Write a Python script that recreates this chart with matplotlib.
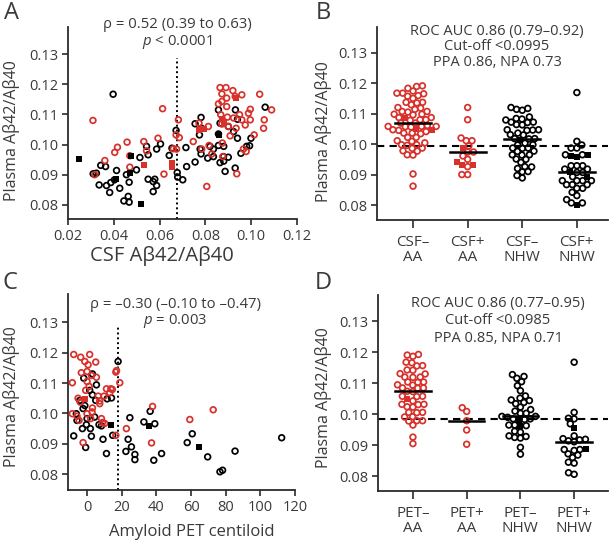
import numpy as np
import matplotlib.pyplot as plt

plt.rcParams['font.family'] = ['Open Sans', 'DejaVu Sans']
plt.rcParams['mathtext.fontset'] = 'custom'
plt.rcParams['mathtext.rm'] = 'Open Sans'
plt.rcParams['mathtext.it'] = 'Open Sans:italic'

RED = '#d8312b'
INK = '#2b2b2b'
TXT = '#3a3a3a'

# ---- panel A: CSF ratio vs plasma ratio ----
a_black_x = [0.0397, 0.0310, 0.0324, 0.0336, 0.0343, 0.0364, 0.0368, 0.0382, 0.0387, 0.0403,
             0.0412, 0.0426, 0.0444, 0.0455, 0.0463, 0.0467, 0.0467, 0.0499, 0.0543, 0.0550,
             0.0550, 0.0572, 0.0572, 0.0579, 0.0587, 0.0587, 0.0604, 0.0642, 0.0654, 0.0672,
             0.0677, 0.0679, 0.0701, 0.0718, 0.0715, 0.0755, 0.0755, 0.0774, 0.0777, 0.0781,
             0.0781, 0.0783, 0.0810, 0.0820, 0.0835, 0.0835, 0.0857, 0.0857, 0.0857, 0.0864,
             0.0879, 0.0864, 0.0880, 0.0886, 0.0880, 0.0900, 0.0900, 0.0923, 0.0931, 0.0940,
             0.0940, 0.0930, 0.0955, 0.0980, 0.0993, 0.0999, 0.1061, 0.0514]
a_black_y = [0.1167, 0.0903, 0.0905, 0.0866, 0.0931, 0.0927, 0.0864, 0.0841, 0.0874, 0.0883,
             0.0914, 0.0855, 0.0813, 0.0900, 0.0828, 0.0809, 0.0875, 0.0916, 0.0994, 0.0966,
             0.0885, 0.0877, 0.0844, 0.0885, 0.0864, 0.0985, 0.1002, 0.0964, 0.0988, 0.1047,
             0.0907, 0.0892, 0.0883, 0.0927, 0.0990, 0.0942, 0.1069, 0.1032, 0.0985, 0.0969,
             0.1090, 0.1054, 0.0955, 0.0994, 0.0985, 0.0960, 0.1115, 0.1035, 0.0997, 0.0940,
             0.0960, 0.1071, 0.0945, 0.0911, 0.0994, 0.0958, 0.1060, 0.1043, 0.1115, 0.1084,
             0.1021, 0.0922, 0.0971, 0.0994, 0.0996, 0.1021, 0.1124, 0.0957]
a_black_sq_x = [0.0248, 0.0410, 0.0470, 0.0477, 0.0520, 0.0861]
a_black_sq_y = [0.0952, 0.0885, 0.0905, 0.0963, 0.0802, 0.1032]
a_red_x = [0.0309, 0.0317, 0.0361, 0.0404, 0.0416, 0.0458, 0.0470, 0.0470, 0.0531, 0.0543,
           0.0593, 0.0613, 0.0619, 0.0660, 0.0674, 0.0672, 0.0682, 0.0686, 0.0747, 0.0772,
           0.0784, 0.0806, 0.0813, 0.0816, 0.0828, 0.0857, 0.0864, 0.0872, 0.0872, 0.0867,
           0.0872, 0.0874, 0.0876, 0.0890, 0.0893, 0.0893, 0.0896, 0.0900, 0.0908, 0.0920,
           0.0923, 0.0930, 0.0934, 0.0937, 0.0949, 0.0959, 0.0959, 0.0966, 0.0974, 0.0978,
           0.0988, 0.0996, 0.0996, 0.1013, 0.1037, 0.1057, 0.1054, 0.1089]
a_red_y = [0.1080, 0.0900, 0.0947, 0.0974, 0.0991, 0.1008, 0.0963, 0.0925, 0.1010, 0.0979,
           0.1021, 0.1119, 0.0902, 0.0986, 0.0985, 0.1032, 0.1082, 0.1023, 0.1010, 0.1071,
           0.0985, 0.0861, 0.1060, 0.0997, 0.0969, 0.1135, 0.1189, 0.1168, 0.1143, 0.1099,
           0.1068, 0.1005, 0.0960, 0.1189, 0.1126, 0.1154, 0.1091, 0.1060, 0.1029, 0.1179,
           0.1088, 0.1160, 0.1054, 0.0903, 0.1099, 0.1165, 0.1082, 0.0985, 0.1065, 0.0977,
           0.1104, 0.1117, 0.1082, 0.1032, 0.1167, 0.1082, 0.1054, 0.1115]
a_red_sq_x = [0.0533, 0.0653, 0.0656, 0.0774, 0.0794, 0.0872, 0.0882, 0.0934]
a_red_sq_y = [0.0931, 0.0938, 0.0927, 0.1049, 0.1051, 0.1084, 0.1073, 0.1154]
csf_cutoff = 0.0675

# ---- panel C: amyloid PET centiloid vs plasma ratio ----
c_red_x = [-7.7, -3.7, -1.3, 1.5, 0.6, 5.0, -3.3, -8.5, 0.0, 2.5, 5.4, 0.0, 1.2, -0.8, 11.2,
           13.7, 9.8, 13.1, 14.6, 17.0, 16.6, 18.9, -5.2, -3.9, 6.4, 7.3, 3.1, 7.3, -8.5, -5.8,
           -4.6, 0.0, 2.1, 2.9, 8.3, 8.9, 10.2, -2.3, 16.6, 22.7, 37.8, 37.2, 59.3, 72.8]
c_red_y = [0.1194, 0.1185, 0.1171, 0.1194, 0.1160, 0.1169, 0.1134, 0.1101, 0.1138, 0.1125,
           0.1119, 0.1105, 0.1089, 0.1076, 0.1081, 0.1081, 0.1057, 0.1068, 0.1079, 0.1141,
           0.1136, 0.1101, 0.1050, 0.1037, 0.1057, 0.1041, 0.1018, 0.1032, 0.0999, 0.0991,
           0.0977, 0.0999, 0.0983, 0.1005, 0.0983, 0.0970, 0.0967, 0.0904, 0.0928, 0.0950,
           0.1023, 0.0903, 0.0980, 0.1012]
c_red_sq_x = [-1.2]
c_red_sq_y = [0.1049]
c_black_x = [17.9, -1.9, 3.1, 5.4, 1.5, 3.1, 5.0, -4.2, -1.3, -2.3, 4.4, 0.0, -0.4, -5.8, -6.2,
             -2.7, -7.7, -0.8, 1.9, 2.5, 6.9, 8.3, 9.2, 11.2, 14.1, 11.6, 14.8, 22.4, 23.7, 25.6,
             24.7, 27.6, 27.6, 32.8, 36.4, 39.1, 38.5, 43.0, 57.8, 60.7, 69.6, 76.7, 78.2, 85.4,
             112.3]
c_black_y = [0.1171, 0.1116, 0.1130, 0.1094, 0.1076, 0.1061, 0.1043, 0.1043, 0.1026, 0.1016,
             0.0988, 0.0983, 0.0963, 0.0977, 0.0999, 0.0950, 0.0926, 0.0888, 0.0950, 0.0925,
             0.0963, 0.0959, 0.0915, 0.0868, 0.1051, 0.1048, 0.0928, 0.0875, 0.0915, 0.0890,
             0.0986, 0.0865, 0.0848, 0.0972, 0.1007, 0.0966, 0.0846, 0.0868, 0.0904, 0.0933,
             0.0857, 0.0808, 0.0813, 0.0876, 0.0920]
c_black_sq_x = [13.7, 35.6, 64.5]
c_black_sq_y = [0.0963, 0.0959, 0.0890]
pet_cutoff = 18

# ---- panel B: plasma ratio by CSF status and race ----
b_labels = ['CSF–\nAA', 'CSF+\nAA', 'CSF–\nNHW', 'CSF+\nNHW']
b_circles = [
    [0.1192, 0.1190, 0.1184, 0.1175, 0.1168, 0.1168, 0.1166, 0.1160, 0.1158, 0.1151,
     0.1138, 0.1138, 0.1136, 0.1130, 0.1121, 0.1119, 0.1115, 0.1108, 0.1108, 0.1106,
     0.1099, 0.1099, 0.1097, 0.1088, 0.1088, 0.1081, 0.1081, 0.1079, 0.1070, 0.1070,
     0.1062, 0.1059, 0.1059, 0.1059, 0.1058, 0.1057, 0.1048, 0.1046, 0.1042, 0.1037,
     0.1037, 0.1035, 0.1023, 0.1023, 0.1012, 0.1010, 0.1005, 0.0999, 0.0999, 0.0997,
     0.0988, 0.0987, 0.0979, 0.0978, 0.0966, 0.0965, 0.0903, 0.0863],
    [0.1121, 0.1081, 0.1021, 0.1012, 0.1012, 0.0995, 0.0975, 0.0975, 0.0962, 0.0951,
     0.0927, 0.0901, 0.0901],
    [0.1121, 0.1118, 0.1115, 0.1112, 0.1090, 0.1085, 0.1083, 0.1080, 0.1073, 0.1073,
     0.1072, 0.1065, 0.1064, 0.1048, 0.1048, 0.1047, 0.1046, 0.1037, 0.1032, 0.1031,
     0.1019, 0.1019, 0.1018, 0.1004, 0.0999, 0.0998, 0.0988, 0.0988, 0.0987, 0.0978,
     0.0977, 0.0966, 0.0966, 0.0965, 0.0952, 0.0951, 0.0941, 0.0927, 0.0926, 0.0921,
     0.0911, 0.0910, 0.0898, 0.0890],
    [0.1170, 0.1010, 0.0998, 0.0988, 0.0988, 0.0966, 0.0966, 0.0930, 0.0930, 0.0930,
     0.0919, 0.0919, 0.0908, 0.0908, 0.0894, 0.0881, 0.0881, 0.0881, 0.0881, 0.0868,
     0.0868, 0.0868, 0.0856, 0.0856, 0.0843, 0.0832, 0.0819, 0.0808, 0.0808],
]
b_squares = [
    [0.1085, 0.1050, 0.1047],
    [0.0988, 0.0943, 0.0932, 0.0932],
    [0.1015],
    [0.0966, 0.0962, 0.0960, 0.0911, 0.0894, 0.0802],
]
b_cutoff = 0.0995

# ---- panel D: plasma ratio by PET status and race ----
d_labels = ['PET–\nAA', 'PET+\nAA', 'PET–\nNHW', 'PET+\nNHW']
d_circles = [
    [0.1193, 0.1191, 0.1187, 0.1168, 0.1166, 0.1157, 0.1156, 0.1143, 0.1142, 0.1131,
     0.1130, 0.1120, 0.1120, 0.1119, 0.1104, 0.1104, 0.1103, 0.1095, 0.1094, 0.1085,
     0.1085, 0.1084, 0.1074, 0.1073, 0.1058, 0.1058, 0.1057, 0.1043, 0.1032, 0.1032,
     0.1031, 0.1024, 0.1023, 0.1006, 0.1006, 0.1005, 0.0992, 0.0991, 0.0979, 0.0979,
     0.0978, 0.0965, 0.0926, 0.0905],
    [0.1021, 0.1009, 0.0979, 0.0949, 0.0903],
    [0.1128, 0.1122, 0.1116, 0.1105, 0.1092, 0.1076, 0.1059, 0.1052, 0.1046, 0.1044,
     0.1038, 0.1034, 0.1023, 0.1015, 0.1010, 0.1003, 0.1003, 0.0993, 0.0993, 0.0990,
     0.0985, 0.0985, 0.0983, 0.0965, 0.0965, 0.0963, 0.0945, 0.0942, 0.0930, 0.0928,
     0.0925, 0.0923, 0.0893, 0.0871],
    [0.1168, 0.1006, 0.0987, 0.0985, 0.0969, 0.0930, 0.0921, 0.0919, 0.0917, 0.0914,
     0.0911, 0.0886, 0.0886, 0.0883, 0.0872, 0.0868, 0.0860, 0.0845, 0.0842, 0.0811,
     0.0806],
]
d_squares = [
    [0.1049],
    [],
    [0.0980, 0.0962],
    [0.0955, 0.0889],
]
d_cutoff = 0.0985

group_colors = [RED, RED, 'black', 'black']

W, H = 611, 544
fig = plt.figure(figsize=(W / 100, H / 100), dpi=100)


def add_axes_px(left, right, top, bottom):
    return fig.add_axes([left / W, 1 - bottom / H, (right - left) / W, (bottom - top) / H])


def style_axes(ax):
    for s in ['top', 'right']:
        ax.spines[s].set_visible(False)
    for s in ['left', 'bottom']:
        ax.spines[s].set_linewidth(1.3)
        ax.spines[s].set_color(INK)
    ax.tick_params(direction='out', length=4.5, width=1.2, color=INK,
                   labelsize=10.5, labelcolor=TXT, pad=2.5)
    ax.set_yticks([0.08, 0.09, 0.10, 0.11, 0.12, 0.13])
    ax.set_yticklabels([f'{v:.2f}' for v in ax.get_yticks()])


def fig_text(x, y, s, **kw):
    fig.text(x / W, 1 - y / H, s, ha='center', va='center', color=TXT, **kw)


def swarm_x(ax, center, vals, diam):
    # simple beeswarm: place points (sorted by y) as close to the centre as possible
    vals = np.asarray(vals, dtype=float)
    pts = ax.transData.transform(np.column_stack([np.full(len(vals), center), vals]))
    ypx = pts[:, 1]
    ppu = ax.transData.transform([[center + 1, 0]])[0, 0] - ax.transData.transform([[center, 0]])[0, 0]
    placed = []
    out = np.zeros(len(vals))
    for i in np.argsort(ypx):
        y = ypx[i]
        near = [(px, py) for px, py in placed if abs(py - y) < diam]
        cands = [0.0]
        for px, py in near:
            dx = np.sqrt(diam ** 2 - (py - y) ** 2)
            cands += [px - dx, px + dx]
        cands.sort(key=abs)
        best = cands[-1]
        for c in cands:
            if all((c - px) ** 2 + (y - py) ** 2 >= diam ** 2 - 1e-6 for px, py in near):
                best = c
                break
        placed.append((best, y))
        out[i] = center + best / ppu
    return out


def scatter_open(ax, x, y, color):
    ax.scatter(x, y, s=17, facecolors='none', edgecolors=color, linewidths=1.25, zorder=3)


def scatter_sq(ax, x, y, color):
    ax.scatter(x, y, s=15, marker='s', color=color, linewidths=0, zorder=4)


def dot_panel(ax, labels, circles, squares, cutoff, xlim):
    ax.set_xlim(*xlim)
    ax.set_ylim(0.0752, 0.1385)
    style_axes(ax)
    for k, (circ, sq) in enumerate(zip(circles, squares)):
        vals = list(circ) + list(sq)
        xs = swarm_x(ax, k, vals, 5.8)
        n = len(circ)
        scatter_open(ax, xs[:n], circ, group_colors[k])
        if sq:
            scatter_sq(ax, xs[n:], sq, group_colors[k])
        med = np.median(vals)
        ax.plot([k - 0.33, k + 0.33], [med, med], color='black', lw=1.8, zorder=5)
    ax.axhline(cutoff, color='black', lw=1.5, ls=(0, (3.5, 2.5)), zorder=2)
    ax.set_xticks(range(len(labels)))
    ax.set_xticklabels(labels, linespacing=1.0, fontsize=11)
    ax.tick_params(axis='x', length=6, pad=5)


# panel A
axA = add_axes_px(68, 297, 27, 219)
axA.set_xlim(0.02, 0.12)
axA.set_ylim(0.0753, 0.139)
style_axes(axA)
axA.set_xticks([0.02, 0.04, 0.06, 0.08, 0.10, 0.12])
axA.set_xticklabels([f'{v:.2f}' for v in axA.get_xticks()])
scatter_open(axA, a_black_x, a_black_y, 'black')
scatter_sq(axA, a_black_sq_x, a_black_sq_y, 'black')
scatter_open(axA, a_red_x, a_red_y, RED)
scatter_sq(axA, a_red_sq_x, a_red_sq_y, RED)
axA.plot([csf_cutoff, csf_cutoff], [0.0753, 0.1288], color='black', lw=1.4, ls=(0, (1, 1.5)), zorder=2)
fig_text(177, 25, 'ρ = 0.52 (0.39 to 0.63)', fontsize=10.7)
fig_text(177, 42, '$p$ < 0.0001', fontsize=10.7)
fig_text(12, 131, 'Plasma Aβ42/Aβ40', fontsize=11.5, rotation=90)
fig_text(162, 256, 'CSF Aβ42/Aβ40', fontsize=14.5)

# panel B
axB = add_axes_px(377, 608, 27, 220)
dot_panel(axB, b_labels, b_circles, b_squares, b_cutoff, (-0.66, 3.57))
fig_text(497, 31, 'ROC AUC 0.86 (0.79–0.92)', fontsize=10.5)
fig_text(497, 47, 'Cut-off <0.0995', fontsize=10.5)
fig_text(497, 63, 'PPA 0.86, NPA 0.73', fontsize=10.5)
fig_text(323, 132, 'Plasma Aβ42/Aβ40', fontsize=11.5, rotation=90)

# panel C
axC = add_axes_px(68, 295, 294, 490)
axC.set_xlim(-11, 120)
axC.set_ylim(0.0748, 0.1393)
style_axes(axC)
axC.set_xticks([0, 20, 40, 60, 80, 100, 120])
scatter_open(axC, c_black_x, c_black_y, 'black')
scatter_sq(axC, c_black_sq_x, c_black_sq_y, 'black')
scatter_open(axC, c_red_x, c_red_y, RED)
scatter_sq(axC, c_red_sq_x, c_red_sq_y, RED)
axC.plot([pet_cutoff, pet_cutoff], [0.0748, 0.1289], color='black', lw=1.4, ls=(0, (1, 1.5)), zorder=2)
fig_text(175, 305, 'ρ = –0.30 (–0.10 to –0.47)', fontsize=10.7)
fig_text(175, 321, '$p$ = 0.003', fontsize=10.7)
fig_text(12, 397, 'Plasma Aβ42/Aβ40', fontsize=11.5, rotation=90)
fig_text(192, 532, 'Amyloid PET centiloid', fontsize=12)

# panel D
axD = add_axes_px(378, 608, 295, 491)
dot_panel(axD, d_labels, d_circles, d_squares, d_cutoff, (-0.65, 3.63))
fig_text(498, 304, 'ROC AUC 0.86 (0.77–0.95)', fontsize=10.5)
fig_text(498, 321, 'Cut-off <0.0985', fontsize=10.5)
fig_text(498, 338, 'PPA 0.85, NPA 0.71', fontsize=10.5)
fig_text(323, 398, 'Plasma Aβ42/Aβ40', fontsize=11.5, rotation=90)

# panel letters
for s, x, y in [('A', 12, 13), ('B', 323, 13), ('C', 10, 283), ('D', 323, 283)]:
    fig_text(x, y, s, fontsize=17)

fig.savefig('out.png', dpi=100)
